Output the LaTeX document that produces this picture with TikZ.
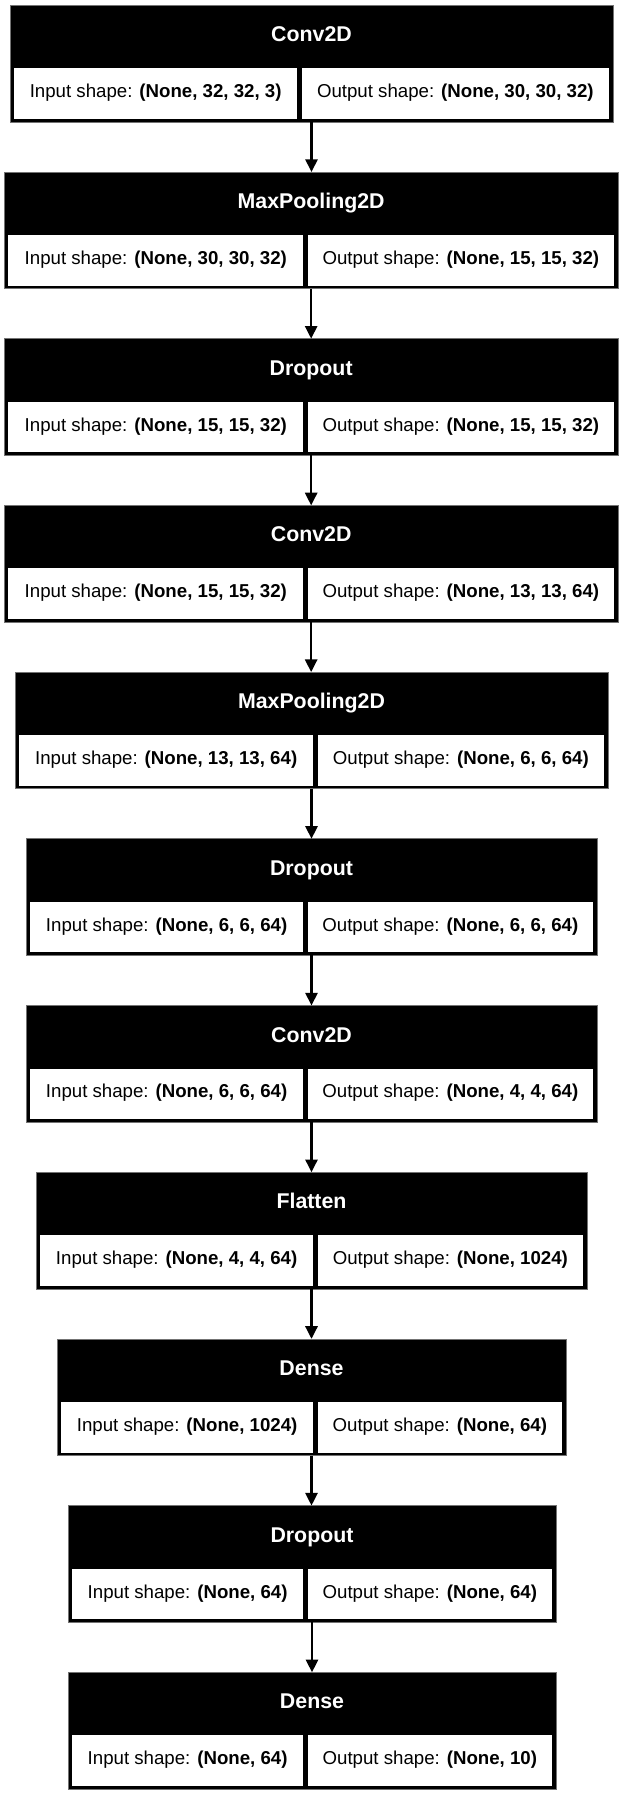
\documentclass[tikz,border=0pt]{standalone}
\usepackage{fontspec}
\setmainfont{Liberation Sans}
\usetikzlibrary{arrows.meta}
\tikzset{
  blockbox/.style={fill=black, draw=black!55, line width=0.5pt, inner sep=0pt, outer sep=0pt, minimum height=87.5pt},
  cellbox/.style={fill=white, inner sep=0pt, outer sep=0pt, minimum height=38pt, text height=10pt, text depth=3.8pt, font=\fontsize{14}{16}\selectfont},
  titletext/.style={text=white, font=\bfseries\fontsize{16}{18}\selectfont, inner sep=0pt, anchor=base},
  flow/.style={line width=2pt, -{Triangle[length=9.5pt,width=9pt]}},
}
\newcommand\layer[8]{%
  \pgfmathsetmacro\LyW{(#4-#3)*0.75}%
  \pgfmathsetmacro\LyA{(#5-2.2-#3-4)*0.75}%
  \pgfmathsetmacro\LyB{(#4-4-#5-2.2)*0.75}%
  \node[blockbox, minimum width=\LyW pt, anchor=north west] (#1) at (#3,#2) {};
  \node[titletext] (#1t) at ({(#3+#4)/2},#2+36.5) {#6};
  \node[cellbox, minimum width=\LyA pt, anchor=north west] (#1i) at (#3+4,#2+63) {Input shape: \textbf{#7}};
  \node[cellbox, minimum width=\LyB pt, anchor=north east] (#1o) at (#4-4,#2+63) {Output shape: \textbf{#8}};
}
\begin{document}
\begin{tikzpicture}[x=0.75pt, y=-0.75pt]
\useasboundingbox[fill=white] (0,0) rectangle (624,1794);
\layer{b1}{5.3}{10}{613}{299.5}{Conv2D}{(None, 32, 32, 3)}{(None, 30, 30, 32)}
\layer{b2}{172}{4.3}{618}{305.5}{MaxPooling2D}{(None, 30, 30, 32)}{(None, 15, 15, 32)}
\layer{b3}{338.7}{4.3}{618}{305.5}{Dropout}{(None, 15, 15, 32)}{(None, 15, 15, 32)}
\layer{b4}{505.4}{4.3}{618}{305.5}{Conv2D}{(None, 15, 15, 32)}{(None, 13, 13, 64)}
\layer{b5}{672.1}{15}{608}{315.5}{MaxPooling2D}{(None, 13, 13, 64)}{(None, 6, 6, 64)}
\layer{b6}{838.8}{26}{597}{305.5}{Dropout}{(None, 6, 6, 64)}{(None, 6, 6, 64)}
\layer{b7}{1005.5}{26}{597}{305.5}{Conv2D}{(None, 6, 6, 64)}{(None, 4, 4, 64)}
\layer{b8}{1172.2}{36}{587}{315.5}{Flatten}{(None, 4, 4, 64)}{(None, 1024)}
\layer{b9}{1338.9}{57}{566}{315.5}{Dense}{(None, 1024)}{(None, 64)}
\layer{b10}{1505.6}{68}{556}{305.5}{Dropout}{(None, 64)}{(None, 64)}
\layer{b11}{1672.3}{68}{556}{305.5}{Dense}{(None, 64)}{(None, 10)}
\draw[flow] (b1.south) -- (b1.south |- b2.north);
\draw[flow] (b2.south) -- (b2.south |- b3.north);
\draw[flow] (b3.south) -- (b3.south |- b4.north);
\draw[flow] (b4.south) -- (b4.south |- b5.north);
\draw[flow] (b5.south) -- (b5.south |- b6.north);
\draw[flow] (b6.south) -- (b6.south |- b7.north);
\draw[flow] (b7.south) -- (b7.south |- b8.north);
\draw[flow] (b8.south) -- (b8.south |- b9.north);
\draw[flow] (b9.south) -- (b9.south |- b10.north);
\draw[flow] (b10.south) -- (b10.south |- b11.north);
\end{tikzpicture}
\end{document}
